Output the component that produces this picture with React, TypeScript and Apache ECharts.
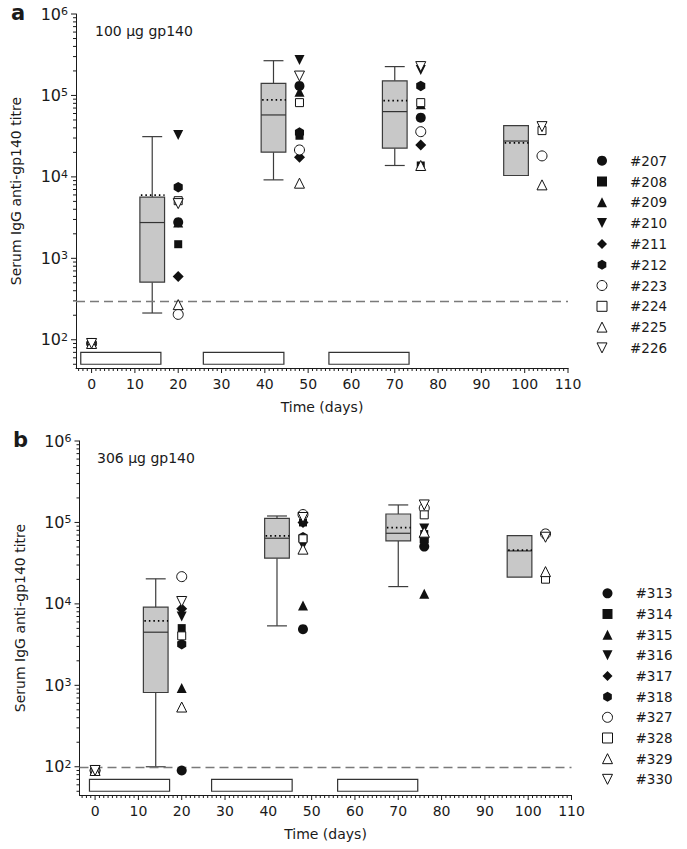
import React, { useEffect, useRef } from 'react';
import * as echarts from 'echarts';

// ---------------- data ----------------
const POINT_DAYS = [0, 20, 48, 76, 104];
const BOX_DAYS = [14, 42, 70, 98];
const X_TICK_LABELS = [0, 10, 20, 30, 40, 50, 60, 70, 80, 90, 100, 110];
const Y_TICK_EXPONENTS = [2, 3, 4, 5, 6];

// Panel a (100 µg gp140)
const A_NAMES = ['#207', '#208', '#209', '#210', '#211', '#212', '#223', '#224', '#225', '#226'];
const A_207 = [90, 2780, 131000, 53400, null];
const A_208 = [90, 1490, 32000, 13800, null];
const A_209 = [90, 2750, 111000, 78000, null];
const A_210 = [90, 32700, 273000, 205000, null];
const A_211 = [90, 600, 17400, 24700, null];
const A_212 = [90, 7480, 35000, 131000, null];
const A_223 = [90, 205, 21400, 35900, 18100];
const A_224 = [90, 5100, 81600, 81600, 37000];
const A_225 = [90, 270, 8370, 13800, 7980];
const A_226 = [90, 4700, 173000, 226000, 41400];
const A_VALUES = [A_207, A_208, A_209, A_210, A_211, A_212, A_223, A_224, A_225, A_226];

const A_WHISKER_HIGH = [31200, 267000, 226000, null];
const A_Q3 = [5640, 141000, 151000, 42600];
const A_MEDIAN = [2750, 57600, 63300, 27550];
const A_Q1 = [510, 20100, 22500, 10400];
const A_WHISKER_LOW = [213, 9190, 13800, null];
const A_MEAN = [5970, 88000, 86300, 26100];

const A_PERIOD_START = [-2.5, 25.8, 54.8];
const A_PERIOD_END = [16, 44.4, 73.3];
const A_CUTOFF = 300;

// Panel b (306 µg gp140)
const B_NAMES = ['#313', '#314', '#315', '#316', '#317', '#318', '#327', '#328', '#329', '#330'];
const B_313 = [90, 90, 4890, 50500, null];
const B_314 = [90, 5040, 100000, 72000, null];
const B_315 = [90, 925, 9530, 13300, null];
const B_316 = [90, 7000, 52000, 84000, null];
const B_317 = [90, 8690, 100000, 66000, null];
const B_318 = [90, 3200, 66000, 60000, null];
const B_327 = [90, 21600, 125000, 150000, 72300];
const B_328 = [90, 4050, 63000, 124000, 20100];
const B_329 = [90, 541, 47000, 76000, 24900];
const B_330 = [90, 10700, 115000, 164000, 65800];
const B_VALUES = [B_313, B_314, B_315, B_316, B_317, B_318, B_327, B_328, B_329, B_330];

const B_WHISKER_HIGH = [20300, 120000, 164000, null];
const B_Q3 = [9120, 112000, 127000, 68900];
const B_MEDIAN = [4490, 64000, 73600, 44700];
const B_Q1 = [816, 36400, 59300, 21300];
const B_WHISKER_LOW = [100, 5370, 16300, null];
const B_MEAN = [6190, 68300, 86300, 45800];

const B_PERIOD_START = [-1.3, 26.9, 56];
const B_PERIOD_END = [17.2, 45.5, 74.5];
const B_CUTOFF = 100;

const PERIOD_LOW = 50;
const PERIOD_HIGH = 70;

// ---------------- styles ----------------
const FONT = 'DejaVu Sans';
const INK = '#1a1a1a';
const BOX_STROKE = '#3c3c3c';
const X_MIN = -3.6;
const X_MAX = 110;
const Y_MIN = 45;
const Y_MAX = 1e6;
const BOX_HALF = 2.85;
const CAP_HALF = 2.3;
const HEX = 'path://M0,-1L0.866,-0.5L0.866,0.5L0,1L-0.866,0.5L-0.866,-0.5Z';
const TRI_UP = 'path://M1,0L2,2L0,2Z';
const TRI_DOWN = 'path://M0,0L2,0L1,2Z';

const SYMBOLS = [
  { symbol: 'circle', size: 10, filled: true },
  { symbol: 'rect', size: 8, filled: true },
  { symbol: TRI_UP, size: 10, filled: true },
  { symbol: TRI_DOWN, size: 10, filled: true },
  { symbol: 'diamond', size: 11, filled: true },
  { symbol: HEX, size: 10.5, filled: true },
  { symbol: 'circle', size: 10, filled: false },
  { symbol: 'rect', size: 8, filled: false },
  { symbol: TRI_UP, size: 10, filled: false },
  { symbol: TRI_DOWN, size: 10, filled: false },
];

const GRIDS = [
  { left: 76, top: 14, width: 492, height: 354 },
  { left: 79.5, top: 441, width: 492, height: 354 },
];

function line(x1: number, y1: number, x2: number, y2: number, style: any) {
  return { type: 'line', shape: { x1, y1, x2, y2 }, style };
}

function makeBoxRenderer(stats: any) {
  return (params: any, api: any) => {
    const i = params.dataIndex;
    const d = BOX_DAYS[i];
    const c = (x: number, y: number) => api.coord([x, y]);
    const st = { stroke: BOX_STROKE, lineWidth: 1.2 };
    const children: any[] = [];
    const tl = c(d - BOX_HALF, stats.q3[i]);
    const br = c(d + BOX_HALF, stats.q1[i]);
    if (stats.hi[i] != null) {
      const a = c(d, stats.hi[i]);
      children.push(line(a[0], a[1], a[0], tl[1], st));
      const l = c(d - CAP_HALF, stats.hi[i]);
      const r = c(d + CAP_HALF, stats.hi[i]);
      children.push(line(l[0], l[1], r[0], r[1], st));
    }
    if (stats.lo[i] != null) {
      const a = c(d, stats.lo[i]);
      children.push(line(a[0], a[1], a[0], br[1], st));
      const l = c(d - CAP_HALF, stats.lo[i]);
      const r = c(d + CAP_HALF, stats.lo[i]);
      children.push(line(l[0], l[1], r[0], r[1], st));
    }
    children.push({
      type: 'rect',
      shape: { x: tl[0], y: tl[1], width: br[0] - tl[0], height: br[1] - tl[1] },
      style: { fill: '#c8c8c8', stroke: BOX_STROKE, lineWidth: 1.2 },
    });
    const m = c(d, stats.median[i]);
    children.push(line(tl[0], m[1], br[0], m[1], { stroke: '#333', lineWidth: 1.2 }));
    const mn = c(d, stats.mean[i]);
    children.push(line(tl[0] + 1, mn[1], br[0], mn[1], { stroke: '#000', lineWidth: 1.7, lineDash: [1.5, 3] }));
    return { type: 'group', children };
  };
}

function ticksRenderer(params: any, api: any) {
  const st = { stroke: INK, lineWidth: 1 };
  const children: any[] = [];
  for (const e of Y_TICK_EXPONENTS) {
    const p = api.coord([X_MIN, Math.pow(10, e)]);
    children.push(line(p[0] - 5, p[1], p[0], p[1], st));
  }
  for (let e = 1; e <= 5; e++) {
    for (let k = 2; k <= 9; k++) {
      const v = k * Math.pow(10, e);
      if (v < Y_MIN) continue;
      const p = api.coord([X_MIN, v]);
      children.push(line(p[0] - 3, p[1], p[0], p[1], st));
    }
  }
  for (let d = Math.ceil(X_MIN); d <= X_MAX; d++) {
    const p = api.coord([d, Y_MIN]);
    const len = d % 10 === 0 ? 5 : 3;
    children.push(line(p[0], p[1], p[0], p[1] + len, st));
  }
  return { type: 'group', children };
}

function periodRenderer(starts: number[], ends: number[]) {
  return (params: any, api: any) => {
    const i = params.dataIndex;
    const a = api.coord([starts[i], PERIOD_HIGH]);
    const b = api.coord([ends[i], PERIOD_LOW]);
    return {
      type: 'rect',
      shape: { x: a[0], y: a[1], width: b[0] - a[0], height: b[1] - a[1] },
      style: { fill: '#fff', stroke: '#333', lineWidth: 1.2 },
    };
  };
}

function yLabel(v: number) {
  const l = Math.log10(v);
  const e = Math.round(l);
  if (Math.abs(l - e) > 1e-6) return '';
  return '{b|10}{sup|' + e + '}';
}

function buildPanel(p: number, cfg: any) {
  const xAxis = {
    type: 'value',
    gridIndex: p,
    min: X_MIN,
    max: X_MAX,
    axisLine: { onZero: false, lineStyle: { color: INK, width: 1 } },
    axisTick: { show: false },
    splitLine: { show: false },
    axisLabel: { customValues: X_TICK_LABELS, fontSize: 14, color: INK, margin: 9, fontFamily: FONT },
    name: 'Time (days)',
    nameLocation: 'middle',
    nameGap: 32,
    nameTextStyle: { fontSize: 14, color: INK, fontFamily: FONT },
  };
  const yAxis = {
    type: 'log',
    logBase: 10,
    gridIndex: p,
    min: Y_MIN,
    max: Y_MAX,
    axisLine: { onZero: false, lineStyle: { color: INK, width: 1 } },
    axisTick: { show: false },
    splitLine: { show: false },
    minorSplitLine: { show: false },
    axisLabel: {
      formatter: yLabel,
      margin: 8,
      color: INK,
      rich: {
        b: { fontSize: 16, lineHeight: 16, color: INK, fontFamily: FONT },
        sup: { fontSize: 11, lineHeight: 10, verticalAlign: 'top', color: INK, fontFamily: FONT },
      },
    },
    name: 'Serum IgG anti-gp140 titre',
    nameLocation: 'middle',
    nameGap: 53,
    nameTextStyle: { fontSize: 14, color: INK, fontFamily: FONT },
  };
  const series: any[] = [];
  series.push({
    type: 'custom',
    name: 'ticks' + p,
    xAxisIndex: p,
    yAxisIndex: p,
    clip: false,
    silent: true,
    data: [[0, 100]],
    renderItem: ticksRenderer,
    z: 1,
  });
  series.push({
    type: 'custom',
    name: 'periods' + p,
    xAxisIndex: p,
    yAxisIndex: p,
    clip: false,
    silent: true,
    data: cfg.periodStart.map((s: number, i: number) => [s, PERIOD_LOW, cfg.periodEnd[i], PERIOD_HIGH]),
    renderItem: periodRenderer(cfg.periodStart, cfg.periodEnd),
    z: 1,
    markLine: {
      silent: true,
      symbol: 'none',
      label: { show: false },
      lineStyle: { color: '#7a7a7a', width: 1.4, type: [9, 5] },
      data: [{ yAxis: cfg.cutoff }],
    },
  });
  series.push({
    type: 'custom',
    name: 'boxes' + p,
    xAxisIndex: p,
    yAxisIndex: p,
    clip: false,
    silent: true,
    data: BOX_DAYS.map((d, i) => [d, cfg.stats.median[i]]),
    renderItem: makeBoxRenderer(cfg.stats),
    z: 2,
  });
  cfg.values.forEach((vals: any[], k: number) => {
    const s = SYMBOLS[k];
    series.push({
      type: 'scatter',
      name: cfg.names[k],
      xAxisIndex: p,
      yAxisIndex: p,
      data: POINT_DAYS.map((d, i) => (vals[i] == null ? null : [d, vals[i]])).filter((v) => v != null),
      symbol: s.symbol,
      symbolSize: s.size,
      symbolKeepAspect: true,
      silent: true,
      itemStyle: {
        color: s.filled ? '#111' : '#fff',
        borderColor: '#111',
        borderWidth: s.filled ? 0 : 1,
        opacity: 1,
      },
      z: 5,
    });
  });
  return { xAxis, yAxis, series };
}

function legendData(names: string[]) {
  return names.map((n, k) => ({
    name: n,
    icon: SYMBOLS[k].symbol,
    itemStyle: {
      color: SYMBOLS[k].filled ? '#111' : '#fff',
      borderColor: '#111',
      borderWidth: SYMBOLS[k].filled ? 0 : 1,
    },
  }));
}

export default function App() {
  const ref = useRef<HTMLDivElement>(null);
  useEffect(() => {
    if (!ref.current) return;
    const chart = echarts.init(ref.current, null, { renderer: 'svg' });
    const pa = buildPanel(0, {
      names: A_NAMES,
      values: A_VALUES,
      stats: { hi: A_WHISKER_HIGH, q3: A_Q3, median: A_MEDIAN, q1: A_Q1, lo: A_WHISKER_LOW, mean: A_MEAN },
      periodStart: A_PERIOD_START,
      periodEnd: A_PERIOD_END,
      cutoff: A_CUTOFF,
    });
    const pb = buildPanel(1, {
      names: B_NAMES,
      values: B_VALUES,
      stats: { hi: B_WHISKER_HIGH, q3: B_Q3, median: B_MEDIAN, q1: B_Q1, lo: B_WHISKER_LOW, mean: B_MEAN },
      periodStart: B_PERIOD_START,
      periodEnd: B_PERIOD_END,
      cutoff: B_CUTOFF,
    });
    const legendBase = {
      orient: 'vertical',
      itemWidth: 10,
      itemHeight: 10,
      padding: 0,
      selectedMode: false,
      itemStyle: { borderWidth: 1 },
      textStyle: { fontSize: 13.5, lineHeight: 14, color: INK, fontFamily: FONT, padding: [0, 0, 0, 18] },
    };
    const option: any = {
      animation: false,
      backgroundColor: '#fff',
      textStyle: { fontFamily: FONT },
      grid: GRIDS.map((g) => ({ ...g, containLabel: false })),
      xAxis: [pa.xAxis, pb.xAxis],
      yAxis: [pa.yAxis, pb.yAxis],
      legend: [
        { ...legendBase, data: legendData(A_NAMES), left: 596.5, top: 153.7, itemGap: 6.8 },
        { ...legendBase, data: legendData(B_NAMES), left: 602, top: 586.3, itemGap: 6.67 },
      ],
      graphic: [
        { type: 'text', left: 11, top: 2, style: { text: 'a', fontSize: 21, fontWeight: 'bold', fill: INK, fontFamily: FONT } },
        { type: 'text', left: 13, top: 429, style: { text: 'b', fontSize: 21, fontWeight: 'bold', fill: INK, fontFamily: FONT } },
        { type: 'text', left: 95, top: 24, style: { text: '100 μg gp140', fontSize: 14, fill: INK, fontFamily: FONT } },
        { type: 'text', left: 97, top: 451, style: { text: '306 μg gp140', fontSize: 14, fill: INK, fontFamily: FONT } },
      ],
      series: [...pa.series, ...pb.series],
    };
    chart.setOption(option);
    return () => chart.dispose();
  }, []);
  return <div ref={ref} style={{ position: 'absolute', left: 0, top: 0, width: 687, height: 849 }} />;
}
